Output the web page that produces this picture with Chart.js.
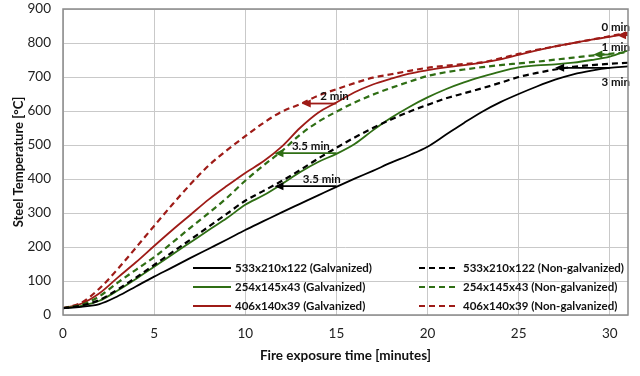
<!DOCTYPE html>
<html>
<head>
<meta charset="utf-8">
<script src="https://cdn.jsdelivr.net/npm/chart.js@4.4.1/dist/chart.umd.min.js"></script>
<style>
  html, body { margin: 0; padding: 0; background: #ffffff; }
  #wrap { width: 640px; height: 376px; position: relative; }
</style>
</head>
<body>
<div id="wrap"><canvas id="c" width="640" height="376"></canvas></div>
<script>
// ---- Data (time in minutes, temperature in °C) ----
const times = [0,1,2,3,4,5,6,7,8,9,10,11,12,13,14,15,16,17,18,19,20,21,22,23,24,25,26,27,28,29,30,31];

const blackGalv    = [20,24,32,55,84,113,140,168,195,222,250,276,302,327,352,377,401,424,448,470,495,530,565,598,626,650,672,692,708,719,727,731];
const blackNonGalv = [20,28,44,75,110,147,185,222,260,298,336,365,394,426,460,492,522,550,575,598,618,637,652,667,683,700,712,722,730,735,739,742];
const greenGalv    = [20,27,42,72,106,142,178,214,250,285,324,352,385,420,450,474,503,543,580,612,640,664,684,701,716,728,734,737,742,750,760,778];
const greenNonGalv = [20,30,55,95,133,170,213,257,300,345,395,440,482,530,568,598,625,648,668,686,703,714,722,729,735,740,745,751,757,763,768,773];
const redGalv      = [20,33,64,110,155,203,250,295,340,380,418,452,495,550,595,625,655,678,695,710,720,728,735,742,752,765,778,790,800,810,818,828];
const redNonGalv   = [20,36,78,135,198,262,325,385,440,485,526,565,598,620,645,664,682,698,708,718,727,733,738,743,755,768,780,790,800,810,820,830];

const seriesLabels = [
  "533x210x122 (Galvanized)", "533x210x122 (Non-galvanized)",
  "254x145x43 (Galvanized)",  "254x145x43 (Non-galvanized)",
  "406x140x39 (Galvanized)",  "406x140x39 (Non-galvanized)"
];

// annotation arrows: start time, end time (arrow head), temperature, label
const arrowFrom   = [31, 30, 30, 15, 15, 15];
const arrowTo     = [30.4, 29.1, 27, 13.1, 11.6, 11.6];
const arrowTemp   = [823, 766, 727, 622, 476, 379];
const arrowLabels = ["0 min", "1 min", "3 min", "2 min", "3.5 min", "3.5 min"];

const xTicks = [0,5,10,15,20,25,30];
const yTicks = [0,100,200,300,400,500,600,700,800,900];

const BLACK = "#000000", GREEN = "#2f6e14", RED = "#9e1b17";
const FONT = "Lato, 'Open Sans', sans-serif";

function mk(label, data, color, dashed) {
  return {
    label: label,
    data: times.map((t, i) => ({x: t, y: data[i]})),
    borderColor: color,
    backgroundColor: color,
    borderWidth: dashed ? 2.2 : 1.8,
    borderDash: dashed ? [6, 4] : [],
    pointRadius: 0,
    cubicInterpolationMode: "monotone",
    fill: false
  };
}

const datasets = [
  mk(seriesLabels[0], blackGalv, BLACK, false),
  mk(seriesLabels[1], blackNonGalv, BLACK, true),
  mk(seriesLabels[2], greenGalv, GREEN, false),
  mk(seriesLabels[3], greenNonGalv, GREEN, true),
  mk(seriesLabels[4], redGalv, RED, false),
  mk(seriesLabels[5], redNonGalv, RED, true)
];

const arrowColors = [RED, GREEN, BLACK, RED, GREEN, BLACK];
const labelPlace = ["aboveEdge", "aboveEdge", "belowEdge", "above", "above", "above"];
const labelAt = [null, null, null, 14.9, 13.6, 14.2];

const annotPlugin = {
  id: "annot",
  afterDatasetsDraw(chart) {
    const ctx = chart.ctx, xs = chart.scales.x, ys = chart.scales.y, ca = chart.chartArea;
    ctx.save();
    for (let i = 0; i < arrowFrom.length; i++) {
      const x1 = xs.getPixelForValue(Math.min(arrowFrom[i], 31));
      const x2 = xs.getPixelForValue(arrowTo[i]);
      const y = ys.getPixelForValue(arrowTemp[i]);
      ctx.strokeStyle = arrowColors[i];
      ctx.fillStyle = arrowColors[i];
      ctx.lineWidth = 1.8;
      ctx.setLineDash([]);
      ctx.beginPath();
      ctx.moveTo(x1, y);
      ctx.lineTo(x2 + 6, y);
      ctx.stroke();
      ctx.beginPath();
      ctx.moveTo(x2, y);
      ctx.lineTo(x2 + 9, y - 4);
      ctx.lineTo(x2 + 9, y + 4);
      ctx.closePath();
      ctx.fill();
    }
    ctx.fillStyle = "#111";
    ctx.font = "bold 11.5px " + FONT;
    for (let i = 0; i < arrowLabels.length; i++) {
      const y = ys.getPixelForValue(arrowTemp[i]);
      if (labelPlace[i] === "aboveEdge") {
        ctx.textAlign = "right"; ctx.textBaseline = "bottom";
        ctx.fillText(arrowLabels[i], ca.right + 2, y - 2);
      } else if (labelPlace[i] === "belowEdge") {
        ctx.textAlign = "right"; ctx.textBaseline = "top";
        ctx.fillText(arrowLabels[i], ca.right + 2, y + 9);
      } else {
        ctx.textAlign = "center"; ctx.textBaseline = "bottom";
        ctx.fillText(arrowLabels[i], xs.getPixelForValue(labelAt[i]), y - 1);
      }
    }
    const rows = [268, 287, 306];
    const colLine = [[193, 231], [419, 455]];
    const colText = [235, 463];
    ctx.font = "bold 11.5px " + FONT;
    ctx.textAlign = "left"; ctx.textBaseline = "middle";
    datasets.forEach((ds, k) => {
      const col = k % 2, row = Math.floor(k / 2);
      const y = rows[row];
      ctx.strokeStyle = ds.borderColor;
      ctx.lineWidth = 1.8;
      ctx.setLineDash(col ? [6, 4] : []);
      ctx.beginPath();
      ctx.moveTo(colLine[col][0], y);
      ctx.lineTo(colLine[col][1], y);
      ctx.stroke();
      ctx.setLineDash([]);
      ctx.fillStyle = "#111";
      ctx.fillText(ds.label, colText[col], y);
    });
    ctx.strokeStyle = "#8a8a8a";
    ctx.lineWidth = 1.5;
    ctx.strokeRect(ca.left, ca.top, ca.right - ca.left, ca.bottom - ca.top);
    ctx.restore();
  }
};

new Chart(document.getElementById("c"), {
  type: "line",
  data: { datasets: datasets },
  options: {
    responsive: false,
    animation: false,
    devicePixelRatio: 1,
    layout: { padding: { top: 9, right: 12, left: 0, bottom: 0 } },
    plugins: { legend: { display: false }, tooltip: { enabled: false } },
    scales: {
      x: {
        type: "linear", min: 0, max: 31,
        afterFit(s) { s.height = 61; s.paddingLeft = 0; s.paddingRight = 0; },
        afterBuildTicks(s) { s.ticks = xTicks.map(v => ({value: v})); },
        grid: { color: "#c9c9c9", lineWidth: 1, drawTicks: false },
        border: { display: false },
        ticks: { font: { family: FONT, size: 13.5 }, color: "#222", padding: 11, maxRotation: 0 },
        title: { display: true, text: "Fire exposure time [minutes]", font: { family: FONT, size: 13.5, weight: "bold" }, color: "#111", padding: { top: 6, bottom: 12 } }
      },
      y: {
        type: "linear", min: 0, max: 900,
        afterFit(s) { s.width = 63; s.paddingTop = 0; s.paddingBottom = 0; },
        afterBuildTicks(s) { s.ticks = yTicks.map(v => ({value: v})); },
        grid: { color: "#c9c9c9", lineWidth: 1, drawTicks: false },
        border: { display: false },
        ticks: { font: { family: FONT, size: 13.5 }, color: "#222", padding: 12 },
        title: { display: true, text: "Steel Temperature [°C]", font: { family: FONT, size: 13, weight: "bold" }, color: "#111", padding: { top: 11, bottom: 0 } }
      }
    }
  },
  plugins: [annotPlugin]
});
</script>
</body>
</html>
